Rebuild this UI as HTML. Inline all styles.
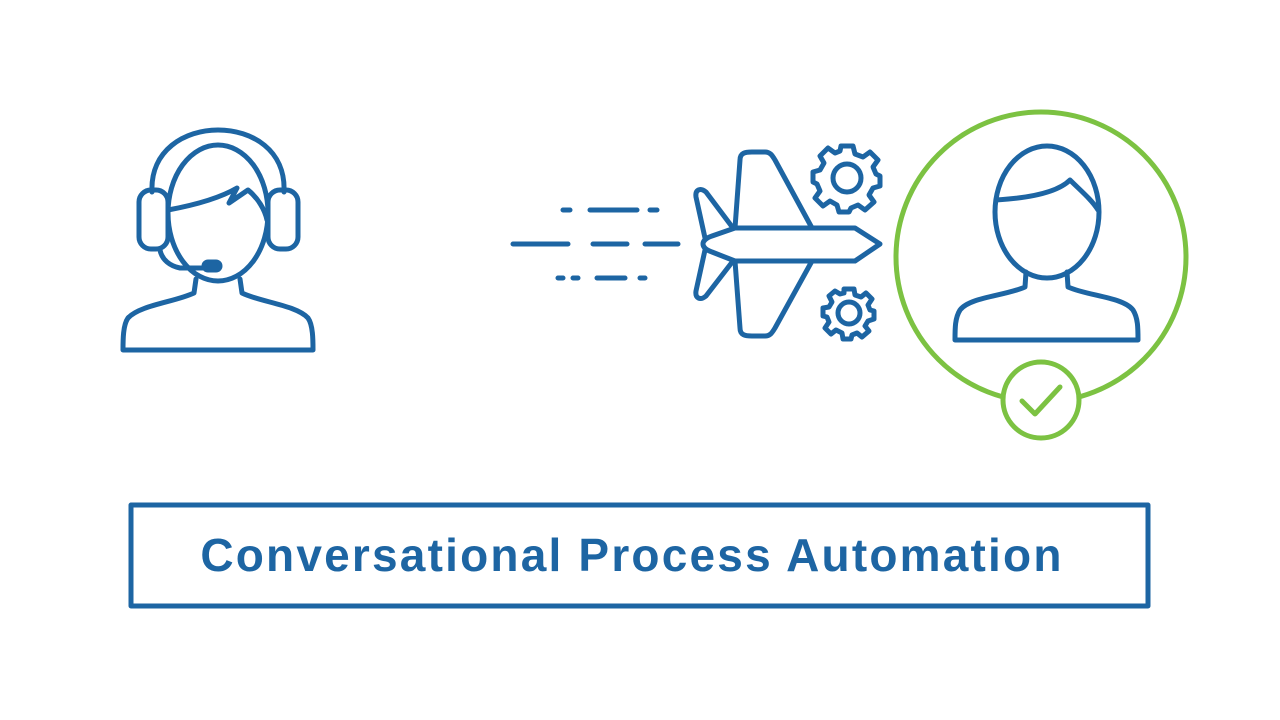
<!DOCTYPE html>
<html><head><meta charset="utf-8"><style>
html,body{margin:0;padding:0;background:#fff;width:1280px;height:720px;overflow:hidden}
svg{display:block}
</style></head><body>
<svg width="1280" height="720" viewBox="0 0 1280 720" xmlns="http://www.w3.org/2000/svg">
<g fill="none" stroke="#1d65a3" stroke-width="5" stroke-linecap="round" stroke-linejoin="round">
  <!-- Agent -->
  <path d="M152 192 C150 150 185 130 218 130 C252 130 286 150 284 192"/>
  <rect x="139" y="190" width="29" height="59" rx="12"/>
  <rect x="268" y="190" width="30" height="59" rx="12"/>
  <ellipse cx="218" cy="213" rx="50" ry="68"/>
  <path d="M168 210 C195 205 220 198 237 188 L229 203 L248 190 C258 198 265 210 267 220"/>
  <path d="M160 250 C162 260 170 266 180 268 L205 268"/>
  <rect x="204" y="262" width="16" height="8" rx="4" fill="#1d65a3"/>
  <path d="M196 279 L194 293 C175 302 140 305 128 318 C123 325 123 340 123 350 L313 350 C313 340 313 325 308 318 C296 305 260 302 242 293 L240 279"/>
  <!-- speed lines -->
  <path d="M563 210 H570 M590 210 H637 M650 210 H657"/>
  <path d="M513 244 H568 M593 244 H627 M645 244 H678"/>
  <path d="M558 278 H563 M573 278 H578 M597 278 H625 M640 278 H645"/>
  <!-- plane -->
  <path d="M712 236 L735 228 L855 228 L880 244 L855 261 L735 261 L712 252 C700 248 700 240 712 236 Z"/>
  <path d="M735 228 L740 160 C740 153 745 152 752 152 L765 152 C770 152 772 155 775 160 L812 228"/>
  <path d="M735 261 L740 328 C740 335 745 336 752 336 L765 336 C770 336 772 333 775 328 L812 261"/>
  <path d="M733 228 L706 192 C700 187 695 190 696 197 L705 238"/>
  <path d="M733 261 L706 296 C700 301 695 298 696 291 L705 250"/>
  <!-- gears -->
  <g transform="translate(847,178)">
    <circle r="14"/>
    <path d="M-6 -32 L6 -32 L8 -24 L16 -21 L23 -26 L31 -18 L26 -11 L29 -4 L33 -2 L33 8 L26 10 L22 17 L27 24 L18 32 L11 27 L4 30 L2 34 L-8 34 L-10 27 L-17 23 L-24 28 L-32 20 L-27 13 L-30 6 L-34 4 L-34 -6 L-27 -8 L-23 -15 L-27 -22 L-19 -30 L-12 -25 L-7 -27 Z"/>
  </g>
  <g transform="translate(849,313)">
    <circle r="11"/>
    <path d="M-5 -24 L5 -24 L6 -18 L12 -16 L17 -20 L23 -14 L19 -8 L21 -3 L25 -2 L25 6 L19 8 L16 13 L20 18 L13 24 L8 20 L3 22 L2 26 L-6 26 L-7 20 L-13 17 L-18 21 L-24 15 L-20 9 L-22 4 L-26 3 L-26 -5 L-20 -6 L-17 -11 L-20 -17 L-14 -22 L-9 -19 L-5 -20 Z"/>
  </g>
  <!-- customer -->
  <ellipse cx="1047" cy="212" rx="52" ry="66"/>
  <path d="M996 200 C1030 198 1058 192 1070 180 C1080 190 1092 200 1098 210"/>
  <path d="M1026 272 L1025 287 C1005 296 970 297 960 310 C955 318 955 328 955 340 L1138 340 C1138 328 1138 318 1133 310 C1123 297 1088 296 1068 287 L1067 272"/>
  <rect x="131" y="505" width="1017" height="101"/>
</g>
<g fill="none" stroke="#7cc242" stroke-width="5" stroke-linecap="round" stroke-linejoin="round">
  <circle cx="1041" cy="257" r="145"/>
  <circle cx="1041" cy="400" r="38" fill="#fff"/>
  <path d="M1022 401 L1035 414 L1060 387"/>
</g>
<text x="632" y="571" text-anchor="middle" font-family="Liberation Sans, sans-serif" font-weight="bold" font-size="46" fill="#1d65a3" letter-spacing="2.2">Conversational Process Automation</text>
</svg>
</body></html>
